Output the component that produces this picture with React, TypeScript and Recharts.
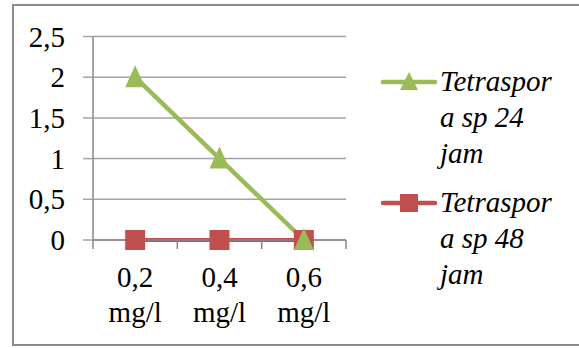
import React from 'react';
import { LineChart, Line, XAxis, YAxis, CartesianGrid } from 'recharts';

const concentrations = [0.2, 0.4, 0.6];
const concentrationLabels = ['0,2', '0,4', '0,6'];
const unitLabel = 'mg/l';
const series24 = [2, 1, 0];
const series48 = [0, 0, 0];
const yTicks = [0, 0.5, 1, 1.5, 2, 2.5];
const xBoundaries = [0.1, 0.3, 0.5, 0.7];
const legend24 = ['Tetraspor', 'a sp 24', 'jam'];
const legend48 = ['Tetraspor', 'a sp 48', 'jam'];

const GREEN = '#9bbb59';
const RED = '#c0504d';
const AXIS = '#868686';
const GRID = '#a3a3a3';
const FONT = 'Liberation Serif';
const FS = 29;

const data = concentrations.map((c, i) => ({ x: c, s24: series24[i], s48: series48[i] }));
const xTicks = [...xBoundaries, ...concentrations].sort((a, b) => a - b);

const XTick = (props: any) => {
  const { x, y, payload } = props;
  const v = payload.value;
  const idx = concentrations.findIndex((c) => Math.abs(c - v) < 1e-9);
  if (idx < 0) {
    return <line x1={x} x2={x} y1={y} y2={y + 9} stroke={AXIS} strokeWidth={1.5} />;
  }
  return (
    <g>
      <text x={x} y={y + 47} textAnchor="middle" fontSize={FS} fill="#000" style={{ fontFamily: FONT }}>
        {concentrationLabels[idx]}
      </text>
      <text x={x} y={y + 82} textAnchor="middle" fontSize={FS} fill="#000" style={{ fontFamily: FONT }}>
        {unitLabel}
      </text>
    </g>
  );
};

const YTick = (props: any) => {
  const { x, y, payload } = props;
  return (
    <text x={x} y={y + 10} textAnchor="end" fontSize={FS} fill="#000" style={{ fontFamily: FONT }}>
      {String(payload.value).replace('.', ',')}
    </text>
  );
};

const SquareDot = (props: any) => {
  const { cx, cy, index } = props;
  if (cx == null || cy == null) return <g key={`sq-${index}`} />;
  return <rect key={`sq-${index}`} x={cx - 10} y={cy - 10} width={20} height={20} fill={RED} />;
};

const TriangleDot = (props: any) => {
  const { cx, cy, index } = props;
  if (cx == null || cy == null) return <g key={`tr-${index}`} />;
  return (
    <path
      key={`tr-${index}`}
      d={`M${cx},${cy - 12} L${cx + 10},${cy + 10} L${cx - 10},${cy + 10} Z`}
      fill={GREEN}
    />
  );
};

const LegendOverlay = () => {
  const items = [
    { lines: legend24, color: GREEN, y: 82, marker: 'tri' },
    { lines: legend48, color: RED, y: 203, marker: 'sq' },
  ];
  return (
    <svg width={579} height={348} style={{ position: 'absolute', left: 0, top: 0, pointerEvents: 'none' }}>
      {items.map((it, k) => (
        <g key={k}>
          <line x1={383} x2={435} y1={it.y} y2={it.y} stroke={it.color} strokeWidth={4.5} strokeLinecap="round" />
          {it.marker === 'tri' ? (
            <path d={`M409,${it.y - 10} L418,${it.y + 8} L400,${it.y + 8} Z`} fill={it.color} />
          ) : (
            <rect x={400} y={it.y - 9} width={18} height={18} fill={it.color} />
          )}
          {it.lines.map((l, j) => (
            <text
              key={j}
              x={440}
              y={it.y + 9 + j * 36}
              fontSize={FS}
              fill="#000"
              style={{ fontFamily: FONT, fontStyle: 'italic' }}
            >
              {l}
            </text>
          ))}
        </g>
      ))}
    </svg>
  );
};

export default function App() {
  return (
    <div style={{ position: 'fixed', left: 0, top: 0, width: 579, height: 348, overflow: 'hidden', background: '#fff', fontFamily: FONT }}>
      <div
        style={{
          position: 'absolute',
          left: 12,
          top: 4,
          width: 620,
          height: 342,
          border: '2px solid #8c8c8c',
          boxSizing: 'border-box',
        }}
      />
      <div style={{ position: 'absolute', left: 0, top: 0 }}>
        <LineChart width={579} height={348} data={data} margin={{ top: 36.5, right: 233, left: 0, bottom: 0 }}>
          <CartesianGrid vertical={false} stroke={GRID} strokeWidth={1.5} />
          <XAxis
            dataKey="x"
            type="number"
            domain={[0.1, 0.7]}
            ticks={xTicks}
            interval={0}
            height={108}
            tickLine={false}
            tickSize={0}
            tickMargin={0}
            tick={<XTick />}
            axisLine={{ stroke: AXIS, strokeWidth: 1.5 }}
          />
          <YAxis
            domain={[0, 2.5]}
            ticks={yTicks}
            interval={0}
            width={93}
            tickSize={10}
            tickMargin={18}
            tick={<YTick />}
            axisLine={{ stroke: AXIS, strokeWidth: 1.5 }}
            tickLine={{ stroke: GRID, strokeWidth: 1.5 }}
          />
          <Line
            dataKey="s48"
            stroke={RED}
            strokeWidth={4}
            dot={SquareDot}
            activeDot={false}
            isAnimationActive={false}
          />
          <Line
            dataKey="s24"
            stroke={GREEN}
            strokeWidth={4.5}
            dot={TriangleDot}
            activeDot={false}
            isAnimationActive={false}
          />
        </LineChart>
      </div>
      <LegendOverlay />
    </div>
  );
}
